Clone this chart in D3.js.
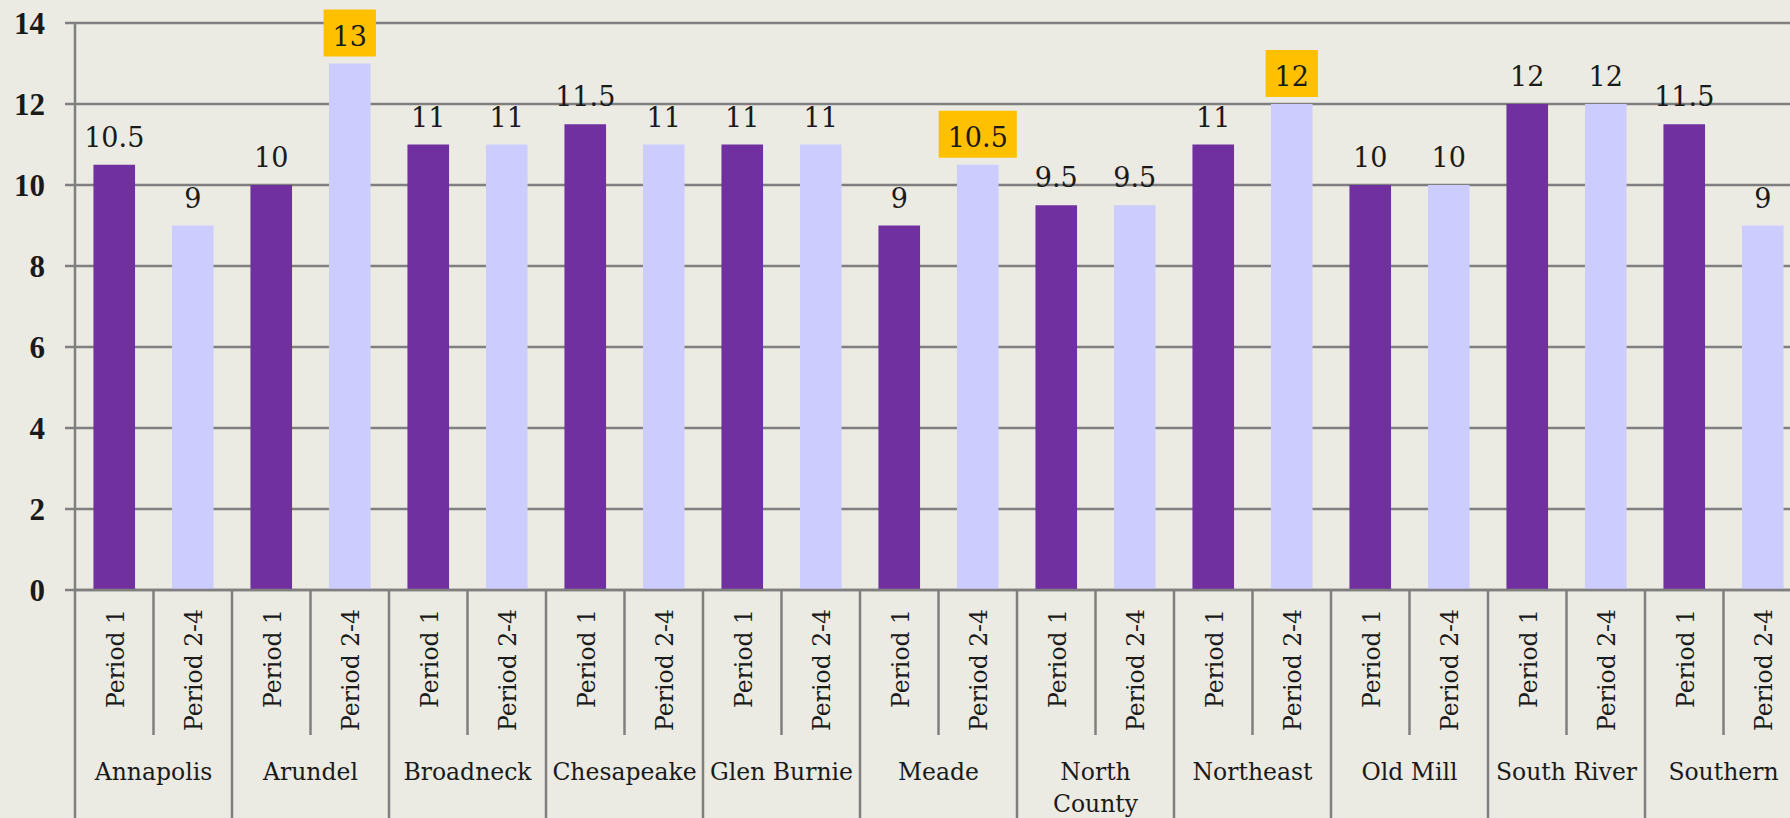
<!DOCTYPE html>
<html>
<head>
<meta charset="utf-8">
<script src="https://cdn.jsdelivr.net/npm/d3@7"></script>
<style>
  html, body { margin: 0; padding: 0; background: #ebebe3; overflow: hidden; }
  svg { display: block; }
  .grid line { stroke: #7f7f7f; stroke-width: 2.5; }
  .ytick text { font-family: "Liberation Serif", serif; font-weight: bold; font-size: 31px; fill: #1a1a1a; }
  .val { font-family: "DejaVu Serif", serif; font-size: 27px; fill: #1a1a1a; }
  .cat { font-family: "DejaVu Serif", serif; font-size: 23.5px; fill: #1a1a1a; }
</style>
</head>
<body>
<svg id="chart" width="1790" height="818"></svg>
<script>
// chart data
const schools = ["Annapolis", "Arundel", "Broadneck", "Chesapeake", "Glen Burnie", "Meade",
  "North County", "Northeast", "Old Mill", "South River", "Southern"];
const periods = ["Period 1", "Period 2-4"];
const period1 = [10.5, 10, 11, 11.5, 11, 9, 9.5, 11, 10, 12, 11.5];
const period24 = [9, 13, 11, 11, 11, 10.5, 9.5, 12, 10, 12, 9];
// labels that sit on a yellow box
const highlighted = ["Arundel|Period 2-4", "Meade|Period 2-4", "Northeast|Period 2-4"];
const yTicks = [0, 2, 4, 6, 8, 10, 12, 14];

const colors = { "Period 1": "#7030a0", "Period 2-4": "#ccccff" };

const svg = d3.select("#chart");
const W = 1790, H = 818;
const leftX = 75, topY = 23, zeroY = 590;
const groupW = 157;

// one row per bar
const rows = [];
schools.forEach((s, i) => {
  rows.push({ school: s, period: "Period 1", value: period1[i] });
  rows.push({ school: s, period: "Period 2-4", value: period24[i] });
});

const x0 = d3.scaleBand().domain(schools).range([leftX, leftX + groupW * schools.length]);
const x1 = d3.scaleBand().domain(periods).range([0, x0.bandwidth()]);
const y = d3.scaleLinear().domain([0, 14]).range([zeroY, topY]);
const barW = x1.bandwidth() * 0.53;

// horizontal gridlines + y ticks
const grid = svg.append("g").attr("class", "grid");
grid.selectAll("line").data(yTicks).enter().append("line")
  .attr("x1", leftX - 10).attr("x2", W)
  .attr("y1", d => y(d)).attr("y2", d => y(d));

svg.append("g").attr("class", "ytick")
  .selectAll("text").data(yTicks).enter().append("text")
  .attr("x", 45).attr("y", d => y(d))
  .attr("dy", "0.35em")
  .attr("text-anchor", "end")
  .text(d => d);

// bars
svg.append("g").selectAll("rect").data(rows).enter().append("rect")
  .attr("x", d => x0(d.school) + x1(d.period) + (x1.bandwidth() - barW) / 2)
  .attr("y", d => y(d.value))
  .attr("width", barW)
  .attr("height", d => y(0) - y(d.value))
  .attr("fill", d => colors[d.period]);

// axis lines drawn over bars
const axis = svg.append("g").attr("class", "grid");
axis.append("line").attr("x1", leftX).attr("x2", leftX).attr("y1", topY).attr("y2", zeroY);
axis.append("line").attr("x1", leftX).attr("x2", W).attr("y1", zeroY).attr("y2", zeroY);
// group boundaries run to the bottom
axis.selectAll(".major").data(schools).enter().append("line")
  .attr("x1", d => x0(d)).attr("x2", d => x0(d))
  .attr("y1", zeroY).attr("y2", H);
// divider between the two periods
axis.selectAll(".minor").data(schools).enter().append("line")
  .attr("x1", d => x0(d) + x1.bandwidth()).attr("x2", d => x0(d) + x1.bandwidth())
  .attr("y1", zeroY).attr("y2", 735);

// value labels, some on a yellow box
const labels = svg.append("g");
rows.forEach(d => {
  const cx = x0(d.school) + x1(d.period) + x1.bandwidth() / 2;
  const by = y(d.value) - 18;
  const g = labels.append("g");
  const t = g.append("text").attr("class", "val")
    .attr("x", cx).attr("y", by)
    .attr("text-anchor", "middle")
    .text(d.value);
  if (highlighted.includes(d.school + "|" + d.period)) {
    const tw = t.node().getComputedTextLength();
    g.insert("rect", "text")
      .attr("x", cx - tw / 2 - 9).attr("y", by - 36)
      .attr("width", tw + 18).attr("height", 47)
      .attr("fill", "#ffc000");
  }
});

// rotated period labels
svg.append("g").selectAll("text").data(rows).enter().append("text")
  .attr("class", "cat")
  .attr("transform", d => `translate(${x0(d.school) + x1(d.period) + x1.bandwidth() / 2 + 1},609) rotate(-90)`)
  .attr("dy", "0.36em")
  .attr("text-anchor", "end")
  .text(d => d.period);

// school names, wrapped if too wide for the group
const names = svg.append("g").selectAll("text").data(schools).enter().append("text")
  .attr("class", "cat")
  .attr("x", d => x0(d) + x0.bandwidth() / 2)
  .attr("y", 780)
  .attr("text-anchor", "middle")
  .text(d => d);

names.each(function (d) {
  const t = d3.select(this);
  if (this.getComputedTextLength() > x0.bandwidth() - 6 && d.indexOf(" ") > 0) {
    const words = d.split(" ");
    t.text(null);
    words.forEach((w, i) => {
      t.append("tspan")
        .attr("x", x0(d) + x0.bandwidth() / 2)
        .attr("dy", i === 0 ? 0 : 32)
        .text(w);
    });
  }
});
</script>
</body>
</html>
